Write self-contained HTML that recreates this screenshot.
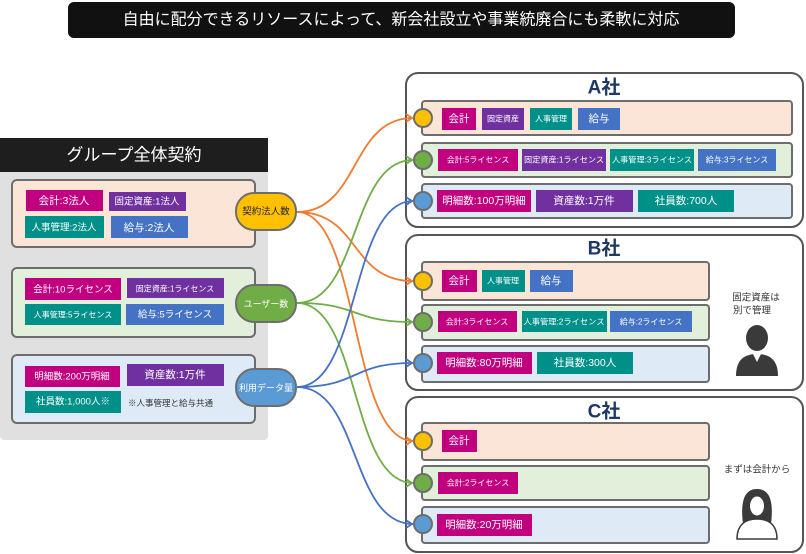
<!DOCTYPE html>
<html><head><meta charset="utf-8"><style>
body{margin:0;background:#fff;}
svg{display:block;font-family:"Liberation Sans","Noto Sans CJK JP",sans-serif;}
.t{fill:#fff;font-size:10.5px;text-anchor:middle;dominant-baseline:central;}
.m{font-size:9.5px;}
.s{font-size:8px;}
</style></head><body>
<svg width="806" height="554" viewBox="0 0 806 554" xmlns="http://www.w3.org/2000/svg">
<rect x="68" y="2" width="667" height="36" rx="6" fill="#111"/>
<text x="401" y="20" fill="#fff" font-size="16" text-anchor="middle" dominant-baseline="central">自由に配分できるリソースによって、新会社設立や事業統廃合にも柔軟に対応</text>

<rect x="0" y="138" width="268" height="302" rx="4" fill="#e0e0e0"/>
<rect x="0" y="138" width="268" height="34" fill="#1e1e1e"/>
<text x="134" y="155" fill="#fff" font-size="17" text-anchor="middle" dominant-baseline="central">グループ全体契約</text>

<rect x="12" y="180" width="243" height="67" rx="5" fill="#fbe5d6" stroke="#6d6d6d" stroke-width="2"/>
<rect x="26" y="190" width="77" height="21" fill="#c0007f"/><text class="t" x="64" y="201">会計:3法人</text>
<rect x="109" y="192" width="77" height="19" fill="#7030a0"/><text class="t m" x="147" y="202">固定資産:1法人</text>
<rect x="25" y="216" width="79" height="22" fill="#00908a"/><text class="t m" x="64" y="228">人事管理:2法人</text>
<rect x="111" y="216" width="77" height="22" fill="#4472c4"/><text class="t" x="149" y="228">給与:2法人</text>

<rect x="12" y="268" width="243" height="69" rx="5" fill="#e2efda" stroke="#6d6d6d" stroke-width="2"/>
<rect x="25" y="278" width="96" height="22" fill="#c0007f"/><text class="t m" x="73" y="290">会計:10ライセンス</text>
<rect x="127" y="278" width="97" height="20" fill="#7030a0"/><text class="t s" x="175" y="289">固定資産:1ライセンス</text>
<rect x="25" y="304" width="96" height="21" fill="#00908a"/><text class="t s" x="73" y="315">人事管理:5ライセンス</text>
<rect x="126" y="304" width="98" height="21" fill="#4472c4"/><text class="t m" x="175" y="315">給与:5ライセンス</text>

<rect x="12" y="355" width="243" height="68" rx="5" fill="#deebf7" stroke="#6d6d6d" stroke-width="2"/>
<rect x="25" y="366" width="95" height="21" fill="#c0007f"/><text class="t m" x="72" y="377">明細数:200万明細</text>
<rect x="127" y="364" width="97" height="22" fill="#7030a0"/><text class="t" x="175" y="375">資産数:1万件</text>
<rect x="25" y="391" width="96" height="22" fill="#00908a"/><text class="t m" x="73" y="402">社員数:1,000人※</text>
<text x="128" y="406" font-size="8.5" fill="#333">※人事管理と給与共通</text>

<rect x="406" y="73" width="397" height="154" rx="12" fill="#fff" stroke="#555" stroke-width="2"/>
<rect x="406" y="235" width="397" height="155" rx="12" fill="#fff" stroke="#555" stroke-width="2"/>
<rect x="406" y="397" width="397" height="155" rx="12" fill="#fff" stroke="#555" stroke-width="2"/>

<g fill="none" stroke-width="1.8">
<g stroke="#ed7d31">
<path d="M297,212 C360,212 350,118 413,118"/>
<path d="M297,212 C360,212 350,281 413,281"/>
<path d="M297,212 C360,212 350,441 413,441"/>
</g>
<g stroke="#70ad47">
<path d="M297,303 C360,303 350,160 413,160"/>
<path d="M297,303 C360,303 350,322 413,322"/>
<path d="M297,303 C360,303 350,483 413,483"/>
</g>
<g stroke="#4472c4">
<path d="M297,387 C360,387 350,201 413,201"/>
<path d="M297,387 C360,387 350,363 413,363"/>
<path d="M297,387 C360,387 350,524 413,524"/>
</g>
</g>

<rect x="236" y="193" width="60" height="37" rx="18" fill="#ffc000" stroke="#6d6d6d" stroke-width="2"/>
<text x="266" y="212" font-size="9.5" fill="#222" text-anchor="middle" dominant-baseline="central">契約法人数</text>
<rect x="236" y="285" width="60" height="37" rx="18" fill="#70ad47" stroke="#6d6d6d" stroke-width="2"/>
<text x="266" y="304" font-size="9" fill="#fff" text-anchor="middle" dominant-baseline="central">ユーザー数</text>
<rect x="236" y="369" width="60" height="37" rx="18" fill="#5b9bd5" stroke="#6d6d6d" stroke-width="2"/>
<text x="266" y="388" font-size="9" fill="#fff" text-anchor="middle" dominant-baseline="central">利用データ量</text>

<text x="604" y="88" font-size="19" font-weight="bold" fill="#1f3864" text-anchor="middle" dominant-baseline="central">A社</text>
<rect x="422" y="101" width="370" height="34" rx="3" fill="#fbe5d6" stroke="#6d6d6d" stroke-width="2"/>
<rect x="422" y="143" width="370" height="34" rx="3" fill="#e2efda" stroke="#6d6d6d" stroke-width="2"/>
<rect x="422" y="184" width="370" height="34" rx="3" fill="#deebf7" stroke="#6d6d6d" stroke-width="2"/>
<circle cx="423" cy="118" r="9" fill="#ffc000" stroke="#6d6d6d" stroke-width="2"/>
<circle cx="423" cy="160" r="9" fill="#70ad47" stroke="#6d6d6d" stroke-width="2"/>
<circle cx="423" cy="201" r="9" fill="#5b9bd5" stroke="#6d6d6d" stroke-width="2"/>
<rect x="442" y="108" width="34" height="22" fill="#c0007f"/><text class="t" x="459" y="119">会計</text>
<rect x="482" y="108" width="42" height="22" fill="#7030a0"/><text class="t s" x="503" y="119">固定資産</text>
<rect x="530" y="108" width="42" height="22" fill="#00908a"/><text class="t s" x="551" y="119">人事管理</text>
<rect x="578" y="108" width="42" height="22" fill="#4472c4"/><text class="t" x="599" y="119">給与</text>
<rect x="438" y="149" width="80" height="22" fill="#c0007f"/><text class="t s" x="478" y="160">会計:5ライセンス</text>
<rect x="522" y="149" width="84" height="22" fill="#7030a0"/><text class="t s" x="564" y="160" textLength="80" lengthAdjust="spacingAndGlyphs">固定資産:1ライセンス</text>
<rect x="610" y="149" width="84" height="22" fill="#00908a"/><text class="t s" x="652" y="160" textLength="80" lengthAdjust="spacingAndGlyphs">人事管理:3ライセンス</text>
<rect x="698" y="149" width="78" height="22" fill="#4472c4"/><text class="t s" x="737" y="160">給与:3ライセンス</text>
<rect x="437" y="190" width="94" height="22" fill="#c0007f"/><text class="t" x="484" y="201">明細数:100万明細</text>
<rect x="536" y="190" width="97" height="22" fill="#7030a0"/><text class="t" x="584" y="201">資産数:1万件</text>
<rect x="638" y="190" width="96" height="22" fill="#00908a"/><text class="t" x="686" y="201">社員数:700人</text>

<text x="604" y="249" font-size="19" font-weight="bold" fill="#1f3864" text-anchor="middle" dominant-baseline="central">B社</text>
<rect x="422" y="262" width="287" height="38" rx="3" fill="#fbe5d6" stroke="#6d6d6d" stroke-width="2"/>
<rect x="422" y="305" width="287" height="35" rx="3" fill="#e2efda" stroke="#6d6d6d" stroke-width="2"/>
<rect x="422" y="346" width="287" height="36" rx="3" fill="#deebf7" stroke="#6d6d6d" stroke-width="2"/>
<circle cx="423" cy="281" r="9" fill="#ffc000" stroke="#6d6d6d" stroke-width="2"/>
<circle cx="423" cy="322" r="9" fill="#70ad47" stroke="#6d6d6d" stroke-width="2"/>
<circle cx="423" cy="363" r="9" fill="#5b9bd5" stroke="#6d6d6d" stroke-width="2"/>
<rect x="442" y="270" width="35" height="22" fill="#c0007f"/><text class="t" x="459" y="281">会計</text>
<rect x="482" y="270" width="43" height="22" fill="#00908a"/><text class="t s" x="503" y="281">人事管理</text>
<rect x="530" y="270" width="43" height="22" fill="#4472c4"/><text class="t" x="551" y="281">給与</text>
<rect x="438" y="311" width="79" height="21" fill="#c0007f"/><text class="t s" x="477" y="322">会計:3ライセンス</text>
<rect x="522" y="311" width="85" height="21" fill="#00908a"/><text class="t s" x="564" y="322" textLength="81" lengthAdjust="spacingAndGlyphs">人事管理:2ライセンス</text>
<rect x="610" y="311" width="82" height="21" fill="#4472c4"/><text class="t s" x="651" y="322">給与:2ライセンス</text>
<rect x="437" y="352" width="95" height="22" fill="#c0007f"/><text class="t" x="484" y="363">明細数:80万明細</text>
<rect x="537" y="352" width="96" height="22" fill="#00908a"/><text class="t" x="585" y="363">社員数:300人</text>
<text x="756" y="298" font-size="9.5" fill="#333" text-anchor="middle" dominant-baseline="central">固定資産は</text>
<text x="752" y="311" font-size="9.5" fill="#333" text-anchor="middle" dominant-baseline="central">別で管理</text>
<g fill="#3a3a3a">
<ellipse cx="757" cy="338" rx="11" ry="13"/>
<path d="M736,376 C736,360 744,354 757,354 C770,354 778,360 778,376 Z"/>
</g>
<path d="M753,354 L757,362 L761,354 Z" fill="#fff"/>

<text x="604" y="412" font-size="19" font-weight="bold" fill="#1f3864" text-anchor="middle" dominant-baseline="central">C社</text>
<rect x="422" y="423" width="287" height="37" rx="3" fill="#fbe5d6" stroke="#6d6d6d" stroke-width="2"/>
<rect x="422" y="466" width="287" height="34" rx="3" fill="#e2efda" stroke="#6d6d6d" stroke-width="2"/>
<rect x="422" y="507" width="287" height="36" rx="3" fill="#deebf7" stroke="#6d6d6d" stroke-width="2"/>
<circle cx="423" cy="441" r="9" fill="#ffc000" stroke="#6d6d6d" stroke-width="2"/>
<circle cx="423" cy="483" r="9" fill="#70ad47" stroke="#6d6d6d" stroke-width="2"/>
<circle cx="423" cy="524" r="9" fill="#5b9bd5" stroke="#6d6d6d" stroke-width="2"/>
<rect x="442" y="430" width="35" height="22" fill="#c0007f"/><text class="t" x="459" y="441">会計</text>
<rect x="438" y="472" width="80" height="22" fill="#c0007f"/><text class="t s" x="478" y="483">会計:2ライセンス</text>
<rect x="437" y="514" width="95" height="22" fill="#c0007f"/><text class="t" x="484" y="525">明細数:20万明細</text>
<text x="757" y="470" font-size="9.5" fill="#333" text-anchor="middle" dominant-baseline="central">まずは会計から</text>
<path d="M743,524 C740,500 745,489 757,489 C769,489 774,500 771,524 Z" fill="#3a3a3a"/>
<ellipse cx="757" cy="506" rx="7.5" ry="10" fill="#fff" stroke="#3a3a3a" stroke-width="1"/>
<path d="M737,539 C737,525 745,519 757,519 C769,519 777,525 777,539 Z" fill="#fff" stroke="#3a3a3a" stroke-width="1.5"/>

<g fill="none" stroke-width="1.8">
<path stroke="#ed7d31" d="M406,114 L412,118 L406,122 M406,277 L412,281 L406,285 M406,437 L412,441 L406,445"/>
<path stroke="#70ad47" d="M406,156 L412,160 L406,164 M406,318 L412,322 L406,326 M406,479 L412,483 L406,487"/>
<path stroke="#4472c4" d="M406,197 L412,201 L406,205 M406,359 L412,363 L406,367 M406,520 L412,524 L406,528"/>
</g>
</svg>
</body></html>
